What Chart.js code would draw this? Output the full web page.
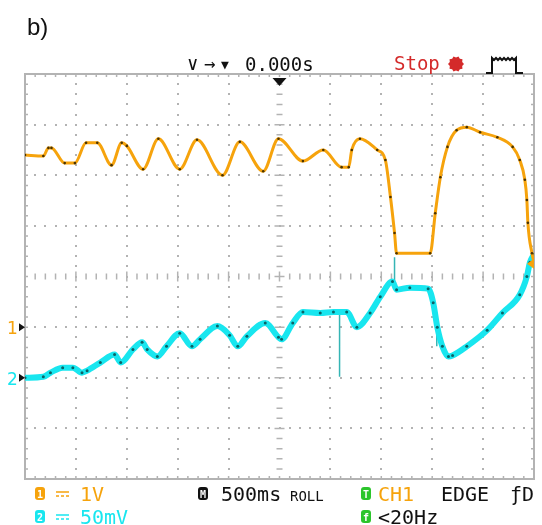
<!DOCTYPE html>
<html>
<head>
<meta charset="utf-8">
<script src="https://cdn.jsdelivr.net/npm/chart.js@4/dist/chart.umd.min.js"></script>
<style>
  body { margin: 0; background: #fff; }
  #wrap { position: relative; width: 542px; height: 525px; }
</style>
</head>
<body>
<div id="wrap"><canvas id="scope"></canvas></div>
<script>
// CH1 (orange), volts against time in s. 1 V/div, ground marker 1 div below centre
const ch1Time = [-2.50, -2.32, -2.27, -2.24, -2.11, -2.01, -1.90, -1.79, -1.65, -1.55, -1.50, -1.34, -1.19, -0.98, -0.81, -0.56, -0.39, -0.16, -0.01, 0.23, 0.43, 0.61, 0.68, 0.71, 0.79, 0.96, 1.04, 1.09, 1.13, 1.15, 1.48, 1.53, 1.58, 1.65, 1.74, 1.84, 1.97, 2.14, 2.29, 2.36, 2.41, 2.43, 2.44, 2.48, 2.50];
const ch1Volts = [3.40, 3.38, 3.54, 3.54, 3.24, 3.24, 3.64, 3.64, 3.20, 3.64, 3.58, 3.12, 3.72, 3.12, 3.70, 3.00, 3.66, 3.08, 3.72, 3.28, 3.50, 3.16, 3.16, 3.50, 3.72, 3.50, 3.30, 2.57, 1.86, 1.46, 1.46, 2.25, 2.96, 3.56, 3.89, 3.95, 3.85, 3.75, 3.56, 3.30, 2.91, 2.51, 2.06, 1.46, 1.28];

// CH2 (cyan), millivolts. 50 mV/div, ground marker 2 div below centre
const ch2Time = [-2.50, -2.32, -2.25, -2.13, -2.03, -1.94, -1.89, -1.76, -1.62, -1.56, -1.44, -1.35, -1.30, -1.20, -1.11, -0.98, -0.86, -0.78, -0.61, -0.49, -0.41, -0.32, -0.14, -0.01, 0.02, 0.13, 0.23, 0.40, 0.53, 0.66, 0.76, 0.89, 0.99, 1.11, 1.15, 1.28, 1.46, 1.51, 1.55, 1.60, 1.66, 1.70, 1.84, 2.04, 2.19, 2.36, 2.43, 2.46, 2.50];
const ch2MilliVolts = [0, 1, 5, 10, 10, 5, 7, 15, 23, 15, 28, 35, 28, 21, 31, 44, 31, 38, 51, 42, 31, 41, 54, 40, 38, 54, 65, 64, 65, 65, 50, 64, 80, 95, 87, 89, 88, 74, 50, 31, 21, 22, 31, 47, 64, 82, 100, 114, 122];

// short glitches on CH2: time, start mV, end mV
const glitchTime = [0.59, 1.13, 1.545];
const glitchFrom = [62, 95, 50];
const glitchTo = [1, 119, 31];

const ch1PerDiv = 1, ch1Pos = -1;      // V/div, ground position in div
const ch2PerDiv = 50, ch2Pos = -2;     // mV/div
const trigLevel = 1.25;                // V on CH1

const ORANGE = "#f6a30c";
const CYAN = "#18e6ef";
const MONO = '"DejaVu Sans Mono", monospace';

const toDiv = (v, per, pos) => v / per + pos;

const ch1Data = ch1Time.map((t, i) => ({ x: t, y: toDiv(ch1Volts[i], ch1PerDiv, ch1Pos) }));
const ch2Data = ch2Time.map((t, i) => ({ x: t, y: toDiv(ch2MilliVolts[i], ch2PerDiv, ch2Pos) }));
const glitchData = glitchTime.flatMap((t, i) => [
  { x: t, y: toDiv(glitchFrom[i], ch2PerDiv, ch2Pos) },
  { x: t, y: toDiv(glitchTo[i], ch2PerDiv, ch2Pos) },
  { x: t, y: null }
]);

// oscilloscope graticule: dotted divisions, tick marks on centre lines and border
const graticule = {
  id: "graticule",
  beforeDatasetsDraw(chart) {
    const { ctx, chartArea: a, scales: { x, y } } = chart;
    ctx.save();
    ctx.fillStyle = "#b3b3b3";
    ctx.strokeStyle = "#b3b3b3";

    // dots along the major lines
    for (let k = -4; k <= 4; k++) {
      if (k === 0) continue;
      const px = Math.round(x.getPixelForValue(k * 0.5));
      for (let m = -20; m <= 20; m++) {
        const py = Math.round(y.getPixelForValue(m * 0.2));
        ctx.fillRect(px - 1, py - 1, 2, 2);
      }
    }
    for (let k = -3; k <= 3; k++) {
      if (k === 0) continue;
      const py = Math.round(y.getPixelForValue(k));
      for (let m = -25; m <= 25; m++) {
        const px = Math.round(x.getPixelForValue(m * 0.1));
        ctx.fillRect(px - 1, py - 1, 2, 2);
      }
    }

    // centre cross ticks
    ctx.lineWidth = 1.5;
    const cx = x.getPixelForValue(0), cy = y.getPixelForValue(0);
    ctx.beginPath();
    for (let m = -24; m <= 24; m++) {
      const px = x.getPixelForValue(m * 0.1);
      const h = m % 5 === 0 ? 5 : 3;
      ctx.moveTo(px, cy - h); ctx.lineTo(px, cy + h);
    }
    for (let m = -19; m <= 19; m++) {
      const py = y.getPixelForValue(m * 0.2);
      const w = m % 5 === 0 ? 5 : 3;
      ctx.moveTo(cx - w, py); ctx.lineTo(cx + w, py);
    }
    // border ticks
    for (let m = -24; m <= 24; m++) {
      const px = x.getPixelForValue(m * 0.1);
      ctx.moveTo(px, a.top); ctx.lineTo(px, a.top + 3);
      ctx.moveTo(px, a.bottom); ctx.lineTo(px, a.bottom - 3);
    }
    for (let m = -19; m <= 19; m++) {
      const py = y.getPixelForValue(m * 0.2);
      ctx.moveTo(a.left, py); ctx.lineTo(a.left + 3, py);
      ctx.moveTo(a.right, py); ctx.lineTo(a.right - 3, py);
    }
    ctx.stroke();

    ctx.lineWidth = 2;
    ctx.strokeRect(a.left, a.top, a.right - a.left, a.bottom - a.top);
    ctx.restore();
  }
};

function badge(ctx, x, y, color, ch) {
  ctx.fillStyle = color;
  ctx.beginPath();
  ctx.roundRect(x, y, 10, 13, 3);
  ctx.fill();
  ctx.fillStyle = "#fff";
  ctx.font = "bold 10px " + MONO;
  ctx.textAlign = "center";
  ctx.fillText(ch, x + 5, y + 10.5);
  ctx.textAlign = "left";
}

function dcSign(ctx, x, y, color) {
  ctx.strokeStyle = color;
  ctx.lineWidth = 1.6;
  ctx.beginPath();
  ctx.moveTo(x, y); ctx.lineTo(x + 13, y);
  for (let i = 0; i < 3; i++) {
    ctx.moveTo(x + i * 5, y + 4); ctx.lineTo(x + i * 5 + 3, y + 4);
  }
  ctx.stroke();
}

// screen labels around the graticule
const labels = {
  id: "labels",
  afterDraw(chart) {
    const { ctx, chartArea: a, scales: { x, y } } = chart;
    ctx.save();
    ctx.textBaseline = "alphabetic";

    ctx.fillStyle = "#111";
    ctx.font = '24px "Liberation Sans", Arial, sans-serif';
    ctx.fillText("b)", 27, 35);

    // top status line
    ctx.font = "19px " + MONO;
    ctx.fillText("\u2228", 187, 70);
    ctx.fillText("\u2192", 204, 70);
    ctx.font = "13px " + MONO;
    ctx.fillText("\u25BC", 221, 69);
    ctx.font = "19px " + MONO;
    ctx.fillText("0.000s", 245, 71);
    ctx.fillStyle = "#d42a2a";
    ctx.fillText("Stop", 394, 70);
    ctx.beginPath();
    for (let i = 0; i < 20; i++) {
      const r = i % 2 ? 6.5 : 8, ang = i * Math.PI / 10;
      ctx.lineTo(456 + r * Math.cos(ang), 64 + r * Math.sin(ang));
    }
    ctx.closePath();
    ctx.fill();

    // trigger type icon
    ctx.strokeStyle = "#111";
    ctx.lineWidth = 2;
    ctx.beginPath();
    ctx.moveTo(486, 73); ctx.lineTo(492, 73); ctx.lineTo(492, 58);
    for (let i = 0; i < 6; i++) {
      ctx.lineTo(494 + i * 4, 60); ctx.lineTo(496 + i * 4, 58);
    }
    ctx.lineTo(516, 58); ctx.lineTo(516, 73); ctx.lineTo(523, 73);
    ctx.stroke();

    // trigger position marker
    const tx = x.getPixelForValue(0);
    ctx.fillStyle = "#111";
    ctx.beginPath();
    ctx.moveTo(tx - 7, a.top + 4); ctx.lineTo(tx + 7, a.top + 4); ctx.lineTo(tx, a.top + 12);
    ctx.closePath();
    ctx.fill();

    // channel ground markers
    ctx.font = '17px "DejaVu Sans", sans-serif';
    [[ch1Pos, ORANGE, "1"], [ch2Pos, CYAN, "2"]].forEach(([pos, col, s]) => {
      const py = y.getPixelForValue(pos);
      ctx.fillStyle = col;
      ctx.fillText(s, 7, py + 7);
      ctx.fillStyle = "#111";
      ctx.beginPath();
      ctx.moveTo(a.left - 6, py - 4); ctx.lineTo(a.left, py); ctx.lineTo(a.left - 6, py + 4);
      ctx.closePath();
      ctx.fill();
    });

    // trigger level marker
    const ly = y.getPixelForValue(toDiv(trigLevel, ch1PerDiv, ch1Pos));
    ctx.fillStyle = ORANGE;
    ctx.beginPath();
    ctx.moveTo(a.right, ly - 5); ctx.lineTo(a.right - 7, ly); ctx.lineTo(a.right, ly + 5);
    ctx.closePath();
    ctx.fill();

    // bottom status lines
    const r1 = 501, r2 = 524;
    badge(ctx, 35, r1 - 14, ORANGE, "1");
    dcSign(ctx, 56, r1 - 9, ORANGE);
    badge(ctx, 35, r2 - 14, CYAN, "2");
    dcSign(ctx, 56, r2 - 9, CYAN);
    ctx.font = "20px " + MONO;
    ctx.fillStyle = ORANGE;
    ctx.fillText("1V", 80, r1);
    ctx.fillStyle = CYAN;
    ctx.fillText("50mV", 80, r2);

    badge(ctx, 198, r1 - 14, "#111", "M");
    ctx.font = "20px " + MONO;
    ctx.fillStyle = "#111";
    ctx.fillText("500ms", 221, r1);
    ctx.font = "14px " + MONO;
    ctx.fillText("ROLL", 290, r1);

    badge(ctx, 361, r1 - 14, "#2cc52c", "T");
    badge(ctx, 361, r2 - 14, "#2cc52c", "f");
    ctx.font = "20px " + MONO;
    ctx.fillStyle = ORANGE;
    ctx.fillText("CH1", 378, r1);
    ctx.fillStyle = "#111";
    ctx.fillText("EDGE", 441, r1);
    ctx.fillText("\u0192D", 510, r1);
    ctx.fillText("<20Hz", 378, r2);

    ctx.restore();
  }
};

new Chart(document.getElementById("scope"), {
  type: "line",
  data: {
    datasets: [
      {
        label: "CH1",
        data: ch1Data,
        borderColor: ORANGE,
        borderWidth: 3,
        cubicInterpolationMode: "monotone",
        pointRadius: 1.3,
        pointBorderWidth: 0,
        pointBackgroundColor: "#4a3300"
      },
      {
        label: "CH2",
        data: ch2Data,
        borderColor: CYAN,
        borderWidth: 6,
        cubicInterpolationMode: "monotone",
        pointRadius: 1.5,
        pointBorderWidth: 0,
        pointBackgroundColor: "#0b6266"
      },
      {
        label: "CH2 glitch",
        data: glitchData,
        borderColor: "#35b5b5",
        borderWidth: 1.5,
        pointRadius: 0,
        spanGaps: false
      }
    ]
  },
  options: {
    responsive: true,
    maintainAspectRatio: false,
    animation: false,
    events: [],
    layout: { padding: { left: 25, right: 8, top: 74, bottom: 46 } },
    scales: {
      x: { type: "linear", min: -2.5, max: 2.5, display: false },
      y: { min: -4, max: 4, display: false }
    },
    plugins: {
      legend: { display: false },
      tooltip: { enabled: false }
    }
  },
  plugins: [graticule, labels]
});
</script>
</body>
</html>
